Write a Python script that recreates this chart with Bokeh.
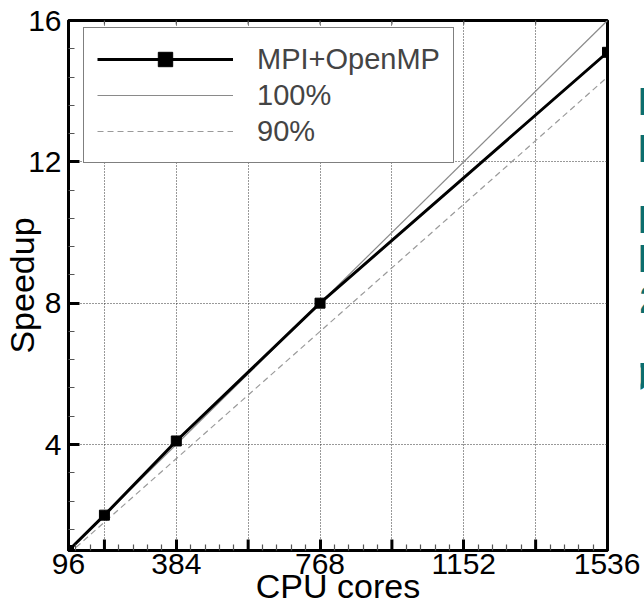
import math
from bokeh.plotting import figure
from bokeh.layouts import row
from bokeh.models import FixedTicker, Legend, LegendItem, Range1d
from bokeh.core.properties import value
from bokeh.embed import file_html
from bokeh.resources import INLINE

# ---- data ----
cores = [96, 192, 384, 768, 1536]
speedup_hybrid = [1.0, 2.0, 4.1, 8.0, 15.1]
ideal_cores = [96, 1536]
ideal_100 = [1.0, 16.0]
ideal_90 = [0.9, 14.4]

x_start, x_end = 96, 1536
y_start, y_end = 1, 16

x_major = [96, 384, 768, 1152, 1536]
x_tick_labels = ["96", "384", "768", "1152", "1536"]
x_unlabeled_major = [192, 576, 960, 1344]
x_minor = [115.2, 153.6, 230.4, 268.8, 307.2, 345.6, 422.4, 460.8, 499.2, 537.6,
           614.4, 652.8, 691.2, 729.6, 806.4, 844.8, 883.2, 921.6, 998.4, 1036.8,
           1075.2, 1113.6, 1190.4, 1228.8, 1267.2, 1305.6, 1382.4, 1420.8, 1459.2, 1497.6]
x_grid = [192, 384, 576, 768, 960, 1152, 1344]
y_major = [4, 8, 12, 16]
y_tick_labels = ["4", "8", "12", "16"]
y_minor = [1.6, 2.4, 3.2, 4.8, 5.6, 6.4, 7.2, 8.8, 9.6, 10.4, 11.2, 12.8, 13.6, 14.4, 15.2]
y_grid = [4, 8, 12]

# clipped slide text at the right edge (narrow strip, positions in strip pixels)
side_text = ["P", "P", "P", "P", "2", "J"]
side_text_x = [-3, -3, -3, -3, -1, -13]
side_text_y = [514, 460, 379, 334, 287, 199]

FONT = "Liberation Sans"

p = figure(width=640, height=607, output_backend="svg", toolbar_location=None,
           title=None,
           x_range=Range1d(x_start, x_end), y_range=Range1d(y_start, y_end),
           min_border_left=67, min_border_right=33, min_border_top=20, min_border_bottom=57)
p.background_fill_color = "white"
p.border_fill_color = "white"
p.outline_line_color = "black"
p.outline_line_width = 3

p.xgrid.ticker = FixedTicker(ticks=x_grid)
p.ygrid.ticker = FixedTicker(ticks=y_grid)
for g in (p.xgrid, p.ygrid):
    g.grid_line_color = "#333333"
    g.grid_line_width = 1
    g.grid_line_dash = "1 2"

r100 = p.line(ideal_cores, ideal_100, line_color="#8a8a8a", line_width=1.2)
r90 = p.line(ideal_cores, ideal_90, line_color="#9a9a9a", line_width=1.2, line_dash="6 4")
rl = p.line(cores, speedup_hybrid, line_color="black", line_width=3)
rs = p.scatter(cores, speedup_hybrid, marker="square", size=10, color="black")

# unlabeled major ticks on the bottom edge and small ticks on the top edge
p.scatter(x_unlabeled_major, [y_start] * len(x_unlabeled_major), marker="dash",
          angle=math.pi / 2, size=22, line_color="black", line_width=3)
p.scatter(x_grid, [y_end] * len(x_grid), marker="dash",
          angle=math.pi / 2, size=8, line_color="#555555", line_width=1.2)

# axes
xa = p.xaxis[0]
xa.ticker = FixedTicker(ticks=x_major, minor_ticks=x_minor)
xa.major_label_overrides = {t: l for t, l in zip(x_major, x_tick_labels)}
ya = p.yaxis[0]
ya.ticker = FixedTicker(ticks=y_major, minor_ticks=y_minor)
ya.major_label_overrides = {t: l for t, l in zip(y_major, y_tick_labels)}

for ax in (xa, ya):
    ax.axis_line_color = "black"
    ax.axis_line_width = 3
    ax.major_tick_in = 11
    ax.major_tick_out = 0
    ax.major_tick_line_width = 3
    ax.major_tick_line_color = "black"
    ax.minor_tick_in = 6
    ax.minor_tick_out = 0
    ax.minor_tick_line_width = 1.2
    ax.minor_tick_line_color = "#555555"
    ax.major_label_text_font = FONT
    ax.major_label_text_font_size = "30px"
    ax.major_label_text_color = "black"
    ax.axis_label_text_font = FONT
    ax.axis_label_text_font_size = "34px"
    ax.axis_label_text_font_style = "normal"
    ax.axis_label_text_color = "black"

xa.axis_label = "CPU cores"
xa.major_label_standoff = 3
xa.axis_label_standoff = -10
ya.axis_label = "Speedup"
ya.major_label_standoff = 7
ya.axis_label_standoff = -16

legend = Legend(items=[
    LegendItem(label="MPI+OpenMP", renderers=[rl, rs]),
    LegendItem(label="100%", renderers=[r100]),
    LegendItem(label="90%", renderers=[r90]),
], location=(15, 387))
legend.margin = 0
legend.padding = 13
legend.spacing = 0
legend.glyph_width = 136
legend.glyph_height = 36
legend.label_height = 36
legend.label_standoff = 24
legend.label_text_font = FONT
legend.label_text_font_size = "29px"
legend.border_line_color = "black"
legend.border_line_width = 1.5
legend.background_fill_color = "white"
legend.background_fill_alpha = 1
p.add_layout(legend, "center")

# narrow strip on the right with the clipped slide text
p2 = figure(width=4, height=607, output_backend="svg", toolbar_location=None,
            title=None, x_range=Range1d(0, 4), y_range=Range1d(0, 607),
            x_axis_location=None, y_axis_location=None, min_border=0)
p2.grid.visible = False
p2.outline_line_color = None
p2.background_fill_color = "white"
p2.border_fill_color = "white"
p2.text(x=side_text_x, y=side_text_y, text=side_text, text_font=value(FONT),
        text_font_style="bold", text_font_size="38px", text_color="#0b6e6e",
        text_baseline="alphabetic")

layout = row(p, p2, spacing=0)
open("out.html", "w").write(file_html(layout, INLINE))
